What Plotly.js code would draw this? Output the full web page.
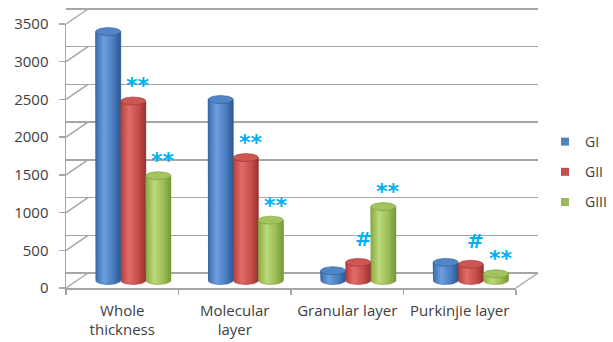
<!DOCTYPE html>
<html><head><meta charset="utf-8">
<script src="https://cdn.plot.ly/plotly-3.0.1.min.js"></script>
<style>html,body{margin:0;padding:0;background:#fff}#chart{width:613px;height:342px}</style>
</head><body><div id="chart"></div>
<script>
// Layer thickness by group
const categories = ['Whole<br>thickness', 'Molecular<br>layer', 'Granular layer', 'Purkinjie layer'];
const seriesNames = ['GI', 'GII', 'GIII'];
const gI   = [3300, 2400, 130, 240];
const gII  = [2380, 1630, 240, 215];
const gIII = [1390, 800, 980, 90];
const gIIMarks  = ['**', '**', '#', '#'];
const gIIIMarks = ['**', '**', '**', '**'];
const yTicks = [0, 500, 1000, 1500, 2000, 2500, 3000, 3500];

const seriesValues = [gI, gII, gIII];
const seriesMarks = [null, gIIMarks, gIIIMarks];

// colour styling per series
const legendColors = ['#4F81BD', '#C0504D', '#9BBB59'];
const bodyScales = [
  [[0, '#3c6cab'], [0.33, '#6c9fe0'], [0.7, '#4a7dc0'], [1, '#2c5791']],
  [[0, '#b4403d'], [0.33, '#e26c68'], [0.7, '#c64f4c'], [1, '#963230']],
  [[0, '#89ab44'], [0.33, '#bcd977'], [0.7, '#9cbd58'], [1, '#779537']]
];
const capColors = ['#5285c6', '#cd5552', '#a2c45f'];
const edgeColors = ['#2f5b94', '#983634', '#7a9838'];

// geometry of the pseudo-3D box (pixels)
const W = 613, H = 342;
const M = {l: 66, r: 75, t: 4, b: 54};
const plotW = W - M.l - M.r, plotH = H - M.t - M.b;
const DX = 22, DY = 15;                 // depth of the box
const frontW = plotW - DX;              // front floor edge length
const frontH = 264;                     // front axis height for the full value range
const yMax = 3500;
const k = frontH / yMax;                // px per unit
const catPx = frontW / categories.length;
const nCat = categories.length;

// ranges for an axis spanning the whole plot area, shifted back by a fraction of the depth
const planeX = f => [-0.5 - (f * DX) / catPx, nCat - 0.5 + (plotW - frontW - f * DX) / catPx];
const planeY = f => [-(f * DY) / k, yMax + (plotH - frontH - f * DY) / k];

const barW = 0.223;
const offsets = [-barW, 0, barW];
const ry = 4 / k;                       // ellipse half-height in data units

const traces = [];
const cylBodies = [], cylCaps = [];
const N = 36;

seriesValues.forEach((vals, s) => {
  traces.push({
    type: 'bar', name: seriesNames[s], x: vals.map((_, i) => i), y: vals,
    xaxis: 'x3', yaxis: 'y3', width: barW, offset: offsets[s] - barW / 2,
    marker: {color: legendColors[s], line: {width: 0}}, showlegend: false,
    hovertemplate: seriesNames[s] + ': %{y}<extra></extra>'
  });
  vals.forEach((v, i) => {
    const cx = i + offsets[s], rx = barW / 2;
    // body: sides plus the lower half of the base ellipse
    const bx = [cx - rx, cx - rx], by = [v, 0];
    for (let j = 0; j <= N; j++) {
      const t = Math.PI + Math.PI * j / N;
      bx.push(cx + rx * Math.cos(t)); by.push(ry * Math.sin(t));
    }
    bx.push(cx + rx); by.push(v);
    cylBodies.push({
      type: 'scatter', mode: 'lines', x: bx, y: by, xaxis: 'x3', yaxis: 'y3',
      fill: 'toself', fillgradient: {type: 'horizontal', colorscale: bodyScales[s]},
      line: {color: edgeColors[s], width: 0.6}, hoverinfo: 'skip', showlegend: false
    });
    // top cap
    const ex = [], ey = [];
    for (let j = 0; j <= 2 * N; j++) {
      const t = 2 * Math.PI * j / (2 * N);
      ex.push(cx + rx * Math.cos(t)); ey.push(v + ry * Math.sin(t));
    }
    cylCaps.push({
      type: 'scatter', mode: 'lines', x: ex, y: ey, xaxis: 'x3', yaxis: 'y3',
      fill: 'toself', fillcolor: capColors[s],
      line: {color: edgeColors[s], width: 0.6}, hoverinfo: 'skip', showlegend: false
    });
  });
});
traces.push(...cylBodies, ...cylCaps);

// legend entries
seriesNames.forEach((n, s) => {
  traces.push({
    type: 'scatter', mode: 'markers', x: [null], y: [null], xaxis: 'x3', yaxis: 'y3',
    name: n, legendgroup: n, marker: {symbol: 'square', size: 8, color: legendColors[s]},
    hoverinfo: 'skip'
  });
});

// empty traces so the front axes and the back wall get drawn
traces.unshift(
  {type: 'scatter', mode: 'markers', x: [null], y: [null], xaxis: 'x', yaxis: 'y', showlegend: false, hoverinfo: 'skip'},
  {type: 'scatter', mode: 'markers', x: [null], y: [null], xaxis: 'x2', yaxis: 'y2', showlegend: false, hoverinfo: 'skip'}
);

// significance marks above bars
const annotations = [];
seriesMarks.forEach((marks, s) => {
  if (!marks) return;
  marks.forEach((m, i) => {
    if (!m) return;
    annotations.push({
      xref: 'x3', yref: 'y3', x: i + offsets[s] + 5 / catPx, y: seriesValues[s][i],
      text: m, showarrow: false, yanchor: 'middle',
      yshift: m === '#' ? 23 : 15,
      font: {family: 'DejaVu Sans', size: m === '#' ? 20 : 22, color: '#00B0F0', weight: 'bold'}
    });
  });
});

// box edges: connectors from front ticks to the back wall, plus the floor's right side
const fx = px => px / plotW, fyPx = px => px / plotH;
const edge = {color: '#a6a6a6', width: 1.5};
const shapes = yTicks.map(v => ({
  type: 'line', xref: 'paper', yref: 'paper',
  x0: 0, y0: fyPx(v * k), x1: fx(DX), y1: fyPx(v * k + DY), line: edge
}));
shapes.push({type: 'line', xref: 'paper', yref: 'paper', x0: fx(frontW), y0: 0, x1: fx(frontW + DX), y1: fyPx(DY), line: edge});

const font = {family: 'Open Sans', size: 15, color: '#404040'};

const layout = {
  width: W, height: H, margin: M, paper_bgcolor: '#fff', plot_bgcolor: 'rgba(0,0,0,0)',
  showlegend: true, barmode: 'overlay', font: font,
  xaxis: {
    domain: [0, frontW / plotW], anchor: 'y', range: [-0.5, nCat - 0.5],
    tickvals: categories.map((_, i) => i), ticktext: categories, ticks: '',
    minor: {ticks: 'outside', ticklen: 5, tickcolor: '#a6a6a6', tickwidth: 1.5, tick0: -0.5, dtick: 1, showgrid: false},
    showline: true, linecolor: '#a6a6a6', linewidth: 1.5, showgrid: false, zeroline: false,
    tickfont: font, ticklabelstandoff: 8, fixedrange: true
  },
  yaxis: {
    domain: [0, frontH / plotH], anchor: 'x', range: [0, yMax], tickvals: yTicks,
    ticks: 'outside', ticklen: 6, tickcolor: '#a6a6a6', tickwidth: 1.5,
    showline: true, linecolor: '#a6a6a6', linewidth: 1.5, showgrid: false, zeroline: false,
    tickfont: font, ticklabelstandoff: 7, fixedrange: true
  },
  // back wall
  xaxis2: {domain: [0, 1], anchor: 'y2', range: planeX(1), visible: false},
  yaxis2: {
    domain: [0, 1], anchor: 'x2', range: planeY(1), tickvals: yTicks, showticklabels: false,
    showgrid: true, gridcolor: '#a6a6a6', gridwidth: 1.5, zeroline: false, showline: false, ticks: ''
  },
  // middle plane where the cylinders stand
  xaxis3: {domain: [0, 1], anchor: 'y3', range: planeX(0.5), visible: false},
  yaxis3: {domain: [0, 1], anchor: 'x3', range: planeY(0.5), visible: false},
  legend: {
    xref: 'container', yref: 'container',
    x: 545 / W, xanchor: 'left', y: 1 - 126 / H, yanchor: 'top',
    font: {family: 'Open Sans', size: 14, color: '#404040'},
    tracegroupgap: 9, bgcolor: 'rgba(0,0,0,0)'
  },
  annotations: annotations,
  shapes: shapes
};

Plotly.newPlot('chart', traces, layout, {displayModeBar: false, staticPlot: true});
</script>
</body></html>
